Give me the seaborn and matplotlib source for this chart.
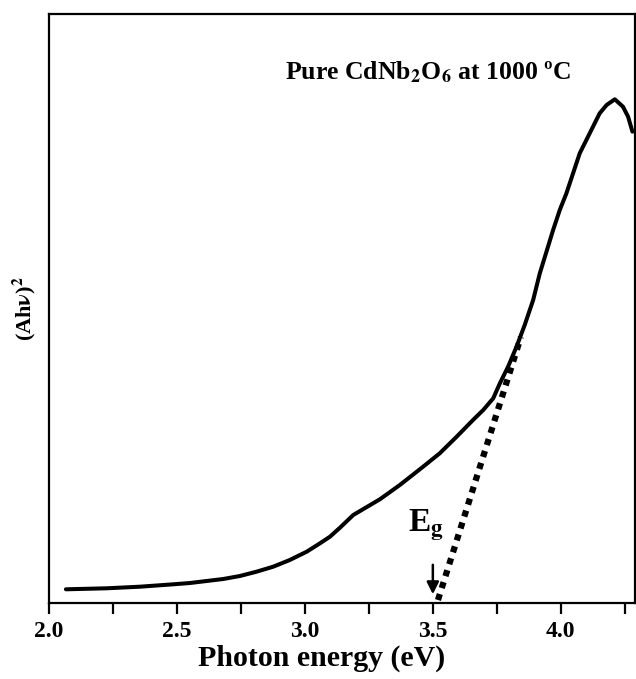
import matplotlib
matplotlib.use("Agg")
import matplotlib.pyplot as plt
import seaborn as sns
import pandas as pd
from matplotlib.ticker import MultipleLocator

# Data (arbitrary y units)
energy = [2.066, 2.225, 2.355, 2.486, 2.551, 2.616, 2.681, 2.746, 2.811, 2.876,
          2.941, 3.007, 3.059, 3.098, 3.137, 3.189, 3.293, 3.371, 3.462, 3.527,
          3.593, 3.657, 3.697, 3.736, 3.762, 3.794, 3.827, 3.859, 3.892, 3.918,
          3.944, 3.970, 3.996, 4.022, 4.048, 4.074, 4.113, 4.152, 4.179, 4.211,
          4.243, 4.263, 4.280]
ahv2 = [0.137, 0.147, 0.163, 0.187, 0.200, 0.220, 0.240, 0.270, 0.313, 0.363,
        0.430, 0.513, 0.597, 0.663, 0.753, 0.880, 1.037, 1.180, 1.363, 1.497,
        1.663, 1.830, 1.930, 2.047, 2.197, 2.363, 2.563, 2.780, 3.030, 3.297,
        3.513, 3.730, 3.930, 4.097, 4.297, 4.497, 4.697, 4.897, 4.980, 5.037,
        4.963, 4.863, 4.713]
tangent_x = [3.52, 3.844]
tangent_y = [0.03, 2.66]
eg_value = 3.50
xticks = [2.0, 2.5, 3.0, 3.5, 4.0]

sns.set_theme(style="ticks")
plt.rcParams["font.family"] = ["Liberation Serif", "DejaVu Serif"]
plt.rcParams["font.weight"] = "bold"
plt.rcParams["mathtext.fontset"] = "stix"
plt.rcParams["text.color"] = "black"
plt.rcParams["axes.labelcolor"] = "black"
plt.rcParams["xtick.color"] = "black"

fig = plt.figure(figsize=(6.36, 6.79), dpi=100)
ax = fig.add_axes([49 / 636, 76 / 679, 586 / 636, 589 / 679])

df = pd.DataFrame({"E": energy, "A": ahv2})
sns.lineplot(data=df, x="E", y="A", ax=ax, color="black", linewidth=2.9)
ax.plot(tangent_x, tangent_y, color="black", linestyle=(0, (1, 1)), linewidth=4.5,
        solid_capstyle="butt", dash_capstyle="butt")

ax.annotate("", xy=(eg_value, 0.06), xytext=(eg_value, 0.41),
            arrowprops=dict(arrowstyle="-|>,head_width=0.3,head_length=0.6",
                            color="black", lw=1.8))
ax.text(3.473, 0.78, r"E$_\mathbf{g}$", fontsize=24, fontweight="bold",
        ha="center", va="center")
ax.text(0.646, 0.9015, r"Pure CdNb$_\mathbf{2}$O$_\mathbf{6}$ at 1000 ºC",
        transform=ax.transAxes, fontsize=18.5, fontweight="bold",
        ha="center", va="center")

ax.set_xlim(2.0, 4.29)
ax.set_ylim(0, 5.89)
ax.set_xticks(xticks)
ax.set_xticklabels([f"{t:.1f}" for t in xticks])
ax.xaxis.set_minor_locator(MultipleLocator(0.25))
ax.set_yticks([])
ax.tick_params(axis="x", which="both", direction="out", length=8, width=1.6,
               labelsize=17, pad=5, colors="black")
for lab in ax.get_xticklabels():
    lab.set_fontweight("bold")

ax.set_xlabel("Photon energy (eV)", fontsize=21.5, fontweight="bold")
ax.xaxis.set_label_coords(0.466, -0.071)
ax.xaxis.label.set_va("top")
ax.set_ylabel(r"(Ah$\mathbf{\nu}$)$^\mathbf{2}$", fontsize=16, fontweight="bold", labelpad=8)

for s in ["left", "top", "bottom", "right"]:
    ax.spines[s].set_color("black")
    ax.spines[s].set_linewidth(1.6)

fig.savefig("out.png", dpi=100)
